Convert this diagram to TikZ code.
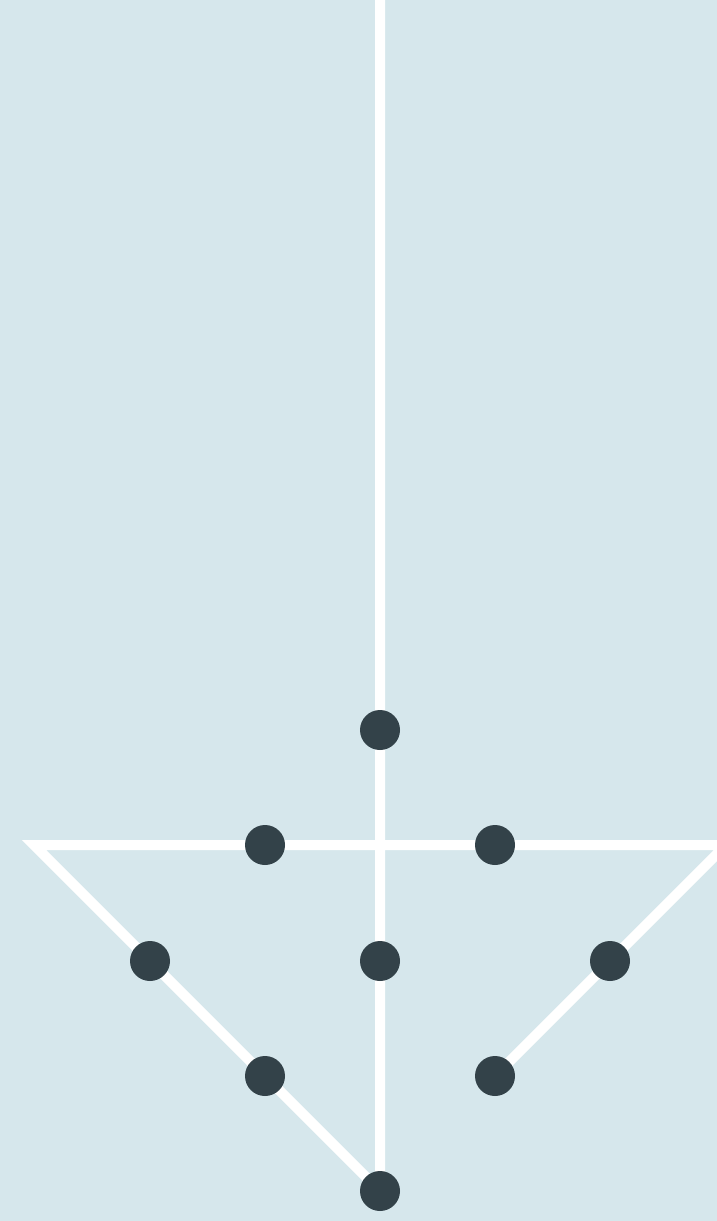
\documentclass[tikz,border=0pt]{standalone}
\definecolor{bgblue}{HTML}{D6E7EC}
\definecolor{dotdark}{HTML}{334249}
\begin{document}
\begin{tikzpicture}[x=1pt,y=-1pt,
  dotnode/.style={circle,fill=dotdark,minimum size=40pt,inner sep=0pt,outer sep=0pt},
  wire/.style={draw=white,line width=10pt,line join=miter}]
\fill[bgblue] (0,0) rectangle (717,1221);
\begin{scope}
\clip (0,0) rectangle (717,1221);
\coordinate (top) at (380,0);
\coordinate (lc) at (34,845);
\coordinate (rc) at (726,845);
\coordinate (a) at (380,730);
\coordinate (b1) at (265,845);
\coordinate (b2) at (495,845);
\coordinate (c1) at (150,961);
\coordinate (c2) at (380,961);
\coordinate (c3) at (610,961);
\coordinate (d1) at (265,1076);
\coordinate (d2) at (495,1076);
\coordinate (e) at (380,1191);
\draw[wire] (top) -- (e) -- (lc) -- (rc) -- (d2);
\end{scope}
\foreach \n in {a,b1,b2,c1,c2,c3,d1,d2,e}
  \node[dotnode] (n\n) at (\n) {};
\useasboundingbox (0,0) rectangle (717,1221);
\end{tikzpicture}
\end{document}
